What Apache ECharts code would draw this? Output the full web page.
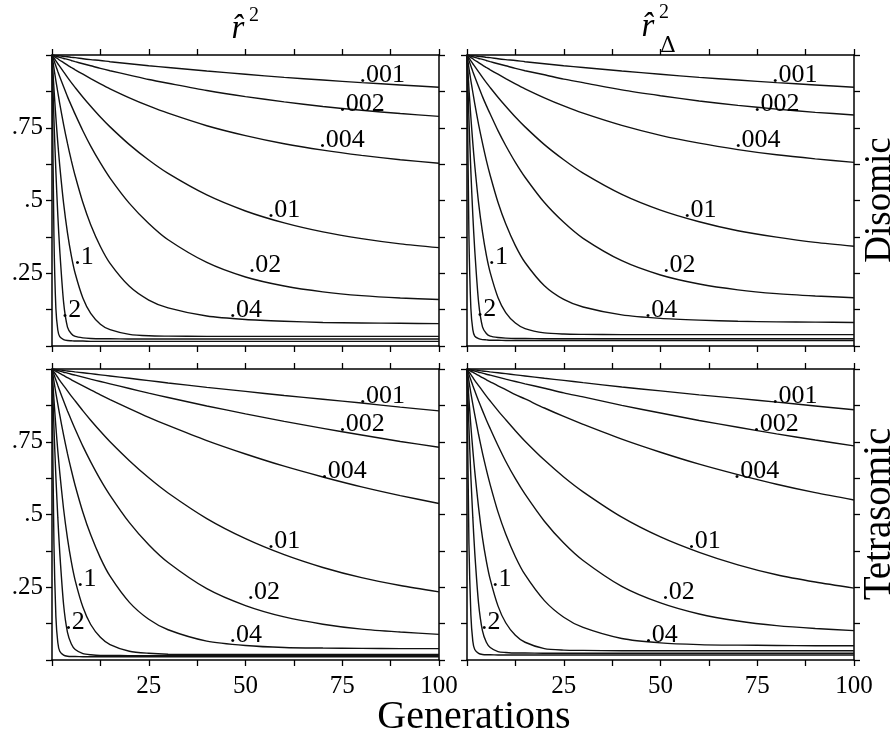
<!DOCTYPE html>
<html>
<head>
<meta charset="utf-8">
<script src="https://cdn.jsdelivr.net/npm/echarts@6/dist/echarts.min.js"></script>
<style>
  html, body { margin: 0; padding: 0; background: #fff; }
  #chart { width: 895px; height: 738px; }
</style>
</head>
<body>
<div id="chart"></div>
<script>
// Generations at which each curve is sampled
const GEN = [0, 0.5, 1, 1.5, 2, 3, 4, 5, 6, 8, 10, 12.5, 15, 20, 25, 30, 40, 50, 60, 70, 80, 90, 100];

// Recombination fractions written next to the curves (the .5 curve is unlabelled)
const RATE_LABELS = ['.001', '.002', '.004', '.01', '.02', '.04', '.1', '.2'];

// Tick labels
const X_TICK_LABELS = { 25: '25', 50: '50', 75: '75', 100: '100' };
const Y_TICK_LABELS = { 0.25: '.25', 0.5: '.5', 0.75: '.75' };

// ---- Disomic, r^2 ----
const disR2_001 = [1, 0.999, 0.998, 0.998, 0.997, 0.995, 0.994, 0.992, 0.991, 0.987, 0.984, 0.981, 0.977, 0.970, 0.963, 0.957, 0.945, 0.934, 0.923, 0.914, 0.905, 0.897, 0.889];
const disR2_002 = [1, 0.998, 0.996, 0.994, 0.992, 0.988, 0.985, 0.981, 0.977, 0.970, 0.963, 0.954, 0.946, 0.931, 0.916, 0.903, 0.878, 0.857, 0.839, 0.823, 0.810, 0.799, 0.789];
const disR2_004 = [1, 0.996, 0.991, 0.987, 0.982, 0.974, 0.965, 0.957, 0.949, 0.934, 0.919, 0.901, 0.884, 0.853, 0.825, 0.800, 0.757, 0.723, 0.695, 0.673, 0.655, 0.640, 0.628];
const disR2_01  = [1, 0.990, 0.980, 0.970, 0.961, 0.942, 0.923, 0.905, 0.888, 0.855, 0.824, 0.787, 0.753, 0.692, 0.639, 0.593, 0.519, 0.464, 0.423, 0.392, 0.369, 0.351, 0.338];
const disR2_02  = [1, 0.981, 0.962, 0.943, 0.925, 0.891, 0.857, 0.826, 0.796, 0.739, 0.687, 0.629, 0.577, 0.490, 0.421, 0.365, 0.287, 0.237, 0.206, 0.186, 0.173, 0.165, 0.160];
const disR2_04  = [1, 0.955, 0.912, 0.872, 0.833, 0.761, 0.696, 0.637, 0.584, 0.492, 0.417, 0.342, 0.284, 0.205, 0.158, 0.131, 0.103, 0.091, 0.085, 0.081, 0.079, 0.078, 0.077];
const disR2_1   = [1, 0.886, 0.786, 0.698, 0.620, 0.490, 0.389, 0.310, 0.249, 0.164, 0.112, 0.075, 0.056, 0.040, 0.035, 0.034, 0.033, 0.033, 0.033, 0.033, 0.033, 0.033, 0.033];
const disR2_2   = [1, 0.78, 0.60, 0.45, 0.33, 0.15, 0.065, 0.042, 0.033, 0.028, 0.026, 0.025, 0.025, 0.024, 0.024, 0.024, 0.024, 0.024, 0.024, 0.024, 0.024, 0.024, 0.024];
const disR2_5   = [1, 0.38, 0.13, 0.055, 0.032, 0.022, 0.019, 0.018, 0.017, 0.017, 0.016, 0.016, 0.016, 0.016, 0.016, 0.016, 0.016, 0.016, 0.016, 0.016, 0.016, 0.016, 0.016];

// ---- Disomic, r^2_Delta ----
const disRD_001 = [1, 0.999, 0.998, 0.998, 0.997, 0.995, 0.994, 0.992, 0.991, 0.987, 0.984, 0.981, 0.977, 0.970, 0.963, 0.957, 0.945, 0.934, 0.923, 0.914, 0.905, 0.897, 0.889];
const disRD_002 = [1, 0.998, 0.996, 0.994, 0.992, 0.988, 0.985, 0.981, 0.977, 0.970, 0.963, 0.954, 0.946, 0.932, 0.917, 0.905, 0.880, 0.860, 0.842, 0.827, 0.814, 0.803, 0.794];
const disRD_004 = [1, 0.996, 0.991, 0.987, 0.982, 0.974, 0.965, 0.957, 0.949, 0.934, 0.919, 0.901, 0.884, 0.853, 0.825, 0.800, 0.758, 0.724, 0.697, 0.675, 0.657, 0.643, 0.631];
const disRD_01  = [1, 0.990, 0.980, 0.970, 0.961, 0.942, 0.923, 0.905, 0.888, 0.855, 0.824, 0.787, 0.753, 0.692, 0.640, 0.594, 0.521, 0.467, 0.427, 0.396, 0.374, 0.356, 0.343];
const disRD_02  = [1, 0.981, 0.962, 0.943, 0.925, 0.891, 0.857, 0.826, 0.797, 0.740, 0.689, 0.631, 0.580, 0.493, 0.425, 0.370, 0.293, 0.244, 0.213, 0.193, 0.180, 0.172, 0.166];
const disRD_04  = [1, 0.955, 0.912, 0.872, 0.833, 0.761, 0.697, 0.638, 0.586, 0.494, 0.420, 0.345, 0.287, 0.207, 0.160, 0.134, 0.107, 0.095, 0.089, 0.085, 0.083, 0.082, 0.081];
const disRD_1   = [1, 0.886, 0.786, 0.698, 0.621, 0.491, 0.391, 0.312, 0.252, 0.167, 0.115, 0.079, 0.060, 0.045, 0.041, 0.040, 0.039, 0.039, 0.039, 0.039, 0.039, 0.039, 0.039];
const disRD_2   = [1, 0.78, 0.60, 0.45, 0.33, 0.15, 0.066, 0.043, 0.034, 0.029, 0.027, 0.026, 0.026, 0.025, 0.025, 0.025, 0.025, 0.025, 0.025, 0.025, 0.025, 0.025, 0.025];
const disRD_5   = [1, 0.38, 0.13, 0.056, 0.034, 0.025, 0.022, 0.021, 0.020, 0.020, 0.019, 0.019, 0.019, 0.019, 0.019, 0.019, 0.019, 0.019, 0.019, 0.019, 0.019, 0.019, 0.019];

// ---- Tetrasomic, r^2 ----
const tetR2_001 = [1, 0.999, 0.998, 0.997, 0.997, 0.995, 0.993, 0.992, 0.990, 0.987, 0.984, 0.980, 0.976, 0.968, 0.960, 0.952, 0.937, 0.923, 0.909, 0.896, 0.883, 0.869, 0.856];
const tetR2_002 = [1, 0.998, 0.996, 0.995, 0.993, 0.989, 0.986, 0.982, 0.979, 0.972, 0.965, 0.957, 0.949, 0.933, 0.917, 0.902, 0.873, 0.846, 0.820, 0.796, 0.773, 0.751, 0.731];
const tetR2_004 = [1, 0.996, 0.992, 0.989, 0.985, 0.978, 0.970, 0.963, 0.956, 0.942, 0.928, 0.911, 0.895, 0.864, 0.834, 0.806, 0.754, 0.708, 0.666, 0.629, 0.595, 0.565, 0.538];
const tetR2_01  = [1, 0.990, 0.981, 0.971, 0.961, 0.943, 0.925, 0.907, 0.890, 0.856, 0.824, 0.786, 0.750, 0.685, 0.626, 0.574, 0.486, 0.417, 0.362, 0.318, 0.283, 0.256, 0.234];
const tetR2_02  = [1, 0.981, 0.962, 0.943, 0.925, 0.890, 0.856, 0.824, 0.793, 0.734, 0.681, 0.620, 0.566, 0.472, 0.396, 0.335, 0.245, 0.187, 0.148, 0.123, 0.106, 0.096, 0.088];
const tetR2_04  = [1, 0.958, 0.917, 0.879, 0.842, 0.773, 0.709, 0.652, 0.599, 0.507, 0.430, 0.351, 0.288, 0.198, 0.140, 0.104, 0.065, 0.050, 0.043, 0.041, 0.040, 0.039, 0.039];
const tetR2_1   = [1, 0.896, 0.802, 0.719, 0.645, 0.518, 0.418, 0.337, 0.273, 0.181, 0.122, 0.078, 0.053, 0.030, 0.023, 0.020, 0.019, 0.019, 0.019, 0.019, 0.019, 0.019, 0.019];
const tetR2_2   = [1, 0.80, 0.63, 0.49, 0.37, 0.19, 0.095, 0.055, 0.036, 0.022, 0.018, 0.016, 0.016, 0.015, 0.015, 0.015, 0.015, 0.015, 0.015, 0.015, 0.015, 0.015, 0.015];
const tetR2_5   = [1, 0.40, 0.15, 0.06, 0.03, 0.017, 0.013, 0.012, 0.012, 0.011, 0.011, 0.011, 0.011, 0.011, 0.011, 0.011, 0.011, 0.011, 0.011, 0.011, 0.011, 0.011, 0.011];

// ---- Tetrasomic, r^2_Delta ----
const tetRD_001 = [1, 0.999, 0.998, 0.997, 0.997, 0.995, 0.993, 0.992, 0.990, 0.987, 0.984, 0.980, 0.976, 0.968, 0.961, 0.953, 0.938, 0.925, 0.911, 0.899, 0.886, 0.873, 0.860];
const tetRD_002 = [1, 0.998, 0.996, 0.995, 0.993, 0.989, 0.986, 0.982, 0.979, 0.972, 0.965, 0.957, 0.949, 0.934, 0.918, 0.904, 0.875, 0.849, 0.823, 0.800, 0.777, 0.756, 0.736];
const tetRD_004 = [1, 0.996, 0.992, 0.989, 0.985, 0.978, 0.970, 0.963, 0.956, 0.942, 0.929, 0.912, 0.897, 0.866, 0.837, 0.810, 0.759, 0.714, 0.673, 0.637, 0.604, 0.575, 0.550];
const tetRD_01  = [1, 0.990, 0.981, 0.971, 0.961, 0.943, 0.925, 0.907, 0.890, 0.857, 0.826, 0.788, 0.752, 0.687, 0.629, 0.578, 0.491, 0.423, 0.370, 0.327, 0.293, 0.268, 0.247];
const tetRD_02  = [1, 0.981, 0.962, 0.943, 0.925, 0.890, 0.857, 0.825, 0.795, 0.737, 0.683, 0.623, 0.570, 0.477, 0.402, 0.342, 0.253, 0.196, 0.158, 0.134, 0.118, 0.108, 0.101];
const tetRD_04  = [1, 0.958, 0.917, 0.879, 0.843, 0.774, 0.711, 0.654, 0.602, 0.509, 0.433, 0.355, 0.293, 0.204, 0.147, 0.112, 0.074, 0.059, 0.053, 0.051, 0.050, 0.049, 0.049];
const tetRD_1   = [1, 0.897, 0.804, 0.722, 0.649, 0.523, 0.420, 0.340, 0.277, 0.186, 0.128, 0.085, 0.061, 0.039, 0.034, 0.033, 0.032, 0.032, 0.032, 0.032, 0.032, 0.032, 0.032];
const tetRD_2   = [1, 0.80, 0.63, 0.49, 0.37, 0.193, 0.10, 0.061, 0.043, 0.029, 0.026, 0.024, 0.024, 0.023, 0.023, 0.023, 0.023, 0.023, 0.023, 0.023, 0.023, 0.023, 0.023];
const tetRD_5   = [1, 0.40, 0.155, 0.065, 0.036, 0.023, 0.019, 0.018, 0.018, 0.017, 0.017, 0.017, 0.017, 0.017, 0.017, 0.017, 0.017, 0.017, 0.017, 0.017, 0.017, 0.017, 0.017];

// Where each rate label sits (generation, r^2 at the text baseline)
const disR2_labelGen = [79.7, 74.5, 69.3, 56.0, 51.1, 46.1, 6.0, 2.8];
const disR2_labelR   = [0.903, 0.805, 0.679, 0.438, 0.249, 0.094, 0.278, 0.094];
const disRD_labelGen = [79.1, 74.4, 69.5, 56.3, 50.9, 46.2, 5.8, 2.8];
const disRD_labelR   = [0.903, 0.805, 0.679, 0.438, 0.249, 0.094, 0.278, 0.100];
const tetR2_labelGen = [79.7, 74.5, 69.8, 56.0, 50.8, 46.1, 6.7, 3.7];
const tetR2_labelR   = [0.880, 0.782, 0.623, 0.381, 0.204, 0.057, 0.249, 0.101];
const tetRD_labelGen = [79.1, 74.2, 69.2, 57.4, 50.7, 46.3, 6.7, 3.9];
const tetRD_labelR   = [0.880, 0.782, 0.623, 0.381, 0.204, 0.057, 0.249, 0.101];

const FONT = '"Liberation Serif", "Times New Roman", serif';
const INK = '#111';

const panels = [
  { curves: [disR2_001, disR2_002, disR2_004, disR2_01, disR2_02, disR2_04, disR2_1, disR2_2, disR2_5],
    labelGen: disR2_labelGen, labelR: disR2_labelR, left: 52, top: 55, xLabels: false, yLabels: true },
  { curves: [disRD_001, disRD_002, disRD_004, disRD_01, disRD_02, disRD_04, disRD_1, disRD_2, disRD_5],
    labelGen: disRD_labelGen, labelR: disRD_labelR, left: 467, top: 55, xLabels: false, yLabels: false },
  { curves: [tetR2_001, tetR2_002, tetR2_004, tetR2_01, tetR2_02, tetR2_04, tetR2_1, tetR2_2, tetR2_5],
    labelGen: tetR2_labelGen, labelR: tetR2_labelR, left: 52, top: 369, xLabels: true, yLabels: true },
  { curves: [tetRD_001, tetRD_002, tetRD_004, tetRD_01, tetRD_02, tetRD_04, tetRD_1, tetRD_2, tetRD_5],
    labelGen: tetRD_labelGen, labelR: tetRD_labelR, left: 467, top: 369, xLabels: true, yLabels: false }
];

const axisLine = { show: true, onZero: false, lineStyle: { color: '#000', width: 1.5 } };
const axisTick = { show: true, inside: false, length: 6, lineStyle: { color: '#000', width: 1.3 } };

const grid = [], xAxis = [], yAxis = [], series = [];

panels.forEach((p, i) => {
  grid.push({ left: p.left, top: p.top, width: 387, height: 291, containLabel: false });

  ['bottom', 'top'].forEach(pos => {
    xAxis.push({
      type: 'value', gridIndex: i, position: pos, min: 0, max: 100, interval: 12.5,
      axisLine, axisTick, splitLine: { show: false },
      axisLabel: {
        show: pos === 'bottom' && p.xLabels, margin: 14,
        fontFamily: FONT, fontSize: 25, color: '#000',
        formatter: v => X_TICK_LABELS[v] || ''
      }
    });
  });

  ['left', 'right'].forEach(pos => {
    yAxis.push({
      type: 'value', gridIndex: i, position: pos, min: 0, max: 1, interval: 0.125,
      axisLine, axisTick, splitLine: { show: false },
      axisLabel: {
        show: pos === 'left' && p.yLabels, margin: 9,
        fontFamily: FONT, fontSize: 25, color: '#000',
        formatter: v => Y_TICK_LABELS[v] || ''
      }
    });
  });

  p.curves.forEach(curve => {
    series.push({
      type: 'line', xAxisIndex: 2 * i, yAxisIndex: 2 * i,
      data: GEN.map((g, k) => [g, curve[k]]),
      showSymbol: false, symbol: 'none',
      smooth: 0.25,
      lineStyle: { color: INK, width: 1.4 },
      silent: true, z: 3
    });
  });

  series.push({
    type: 'scatter', xAxisIndex: 2 * i, yAxisIndex: 2 * i,
    symbolSize: 0, itemStyle: { color: '#000', opacity: 1 },
    data: p.labelGen.map((g, k) => ({ value: [g, p.labelR[k]], name: RATE_LABELS[k] })),
    label: {
      show: true, position: 'right', distance: 0, offset: [-1, -8], opacity: 1,
      formatter: q => q.name, fontFamily: FONT, fontSize: 26, color: '#000',
      textBorderWidth: 0
    },
    emphasis: { disabled: true },
    silent: true, z: 4
  });
});

const textEl = (x, y, text, font, extra) => Object.assign({
  type: 'text', x, y, z: 100,
  style: { text, font, fill: '#000', align: 'center', verticalAlign: 'middle' }
}, extra || {});

const graphic = [
  // column headings
  textEl(238, 29, 'r\u0302', 'italic 33px ' + FONT),
  textEl(254, 16, '2', '20px ' + FONT),
  textEl(648, 27, 'r\u0302', 'italic 33px ' + FONT),
  textEl(664, 13, '2', '20px ' + FONT),
  textEl(668, 46, '\u0394', '22px "DejaVu Serif", ' + FONT),
  // row headings
  textEl(880, 200, 'Disomic', '37px ' + FONT, { rotation: Math.PI / 2 }),
  textEl(880, 514, 'Tetrasomic', '39px ' + FONT, { rotation: Math.PI / 2 }),
  // shared x-axis title
  textEl(474, 717, 'Generations', '40px ' + FONT)
];

const chart = echarts.init(document.getElementById('chart'), null, { renderer: 'canvas' });
chart.setOption({
  animation: false,
  backgroundColor: '#fff',
  grid, xAxis, yAxis, series, graphic
});
</script>
</body>
</html>
